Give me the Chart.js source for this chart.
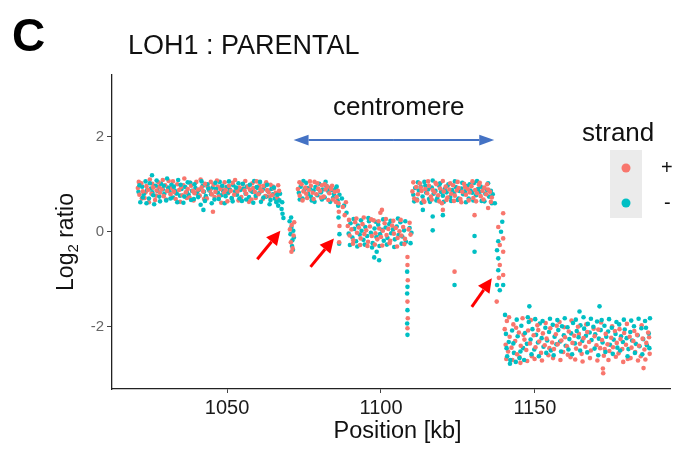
<!DOCTYPE html>
<html>
<head>
<meta charset="utf-8">
<title>LOH1 : PARENTAL</title>
<script src="https://cdn.jsdelivr.net/npm/chart.js@4.4.1/dist/chart.umd.min.js"></script>
<style>
  html, body { margin: 0; padding: 0; background: #fff; }
  #wrap { position: relative; width: 677px; height: 449px; }
</style>
</head>
<body>
<div id="wrap"><canvas id="loh"></canvas></div>
<script>
'use strict';

// --- axes ---
const xTicks = [1050, 1100, 1150];
const yTicks = [-2, 0, 2];
const xRange = [1012.6, 1193.9];
const yRange = [-3.31, 3.30];

// --- strand "+" (red) : [position kb, log2 ratio] ---
const plusSegA = [
  [1021.0,0.92],[1021.5,0.78],[1022.1,1.02],[1022.6,0.85],[1023.2,0.71],[1023.8,0.96],[1024.3,0.88],[1024.9,1.10],[1025.4,0.80],[1026.0,0.93],
  [1026.6,0.67],[1027.1,0.87],[1027.7,1.04],[1028.2,0.82],[1028.8,0.90],[1029.4,0.75],[1029.9,0.98],[1030.5,0.86],[1031.0,1.07],[1031.6,0.79],
  [1032.2,0.91],[1032.7,0.84],[1033.3,0.69],[1033.8,1.00],[1034.4,0.88],[1035.0,0.94],[1035.5,0.77],[1036.1,1.12],[1036.6,0.83],[1037.2,0.90],
  [1037.8,0.72],[1038.3,0.97],[1038.9,0.86],[1039.4,0.81],[1040.0,1.05],[1040.6,0.89],[1041.1,0.76],[1041.7,0.93],[1042.2,0.85],[1042.8,1.01],
  [1043.4,0.70],[1043.9,0.92],[1044.5,0.87],[1045.0,0.79],[1045.4,0.42],[1045.6,0.99],[1046.2,0.84],[1046.7,1.08],[1047.3,0.74],[1047.8,0.90],
  [1048.4,0.95],[1049.0,0.82],[1049.5,0.88],[1050.1,0.64],[1050.6,0.97],[1051.2,0.86],[1051.8,1.03],[1052.3,0.78],[1052.9,0.91],[1053.4,0.85],
  [1054.0,0.93],[1054.6,0.73],[1055.1,1.00],[1055.7,0.87],[1056.2,0.80],[1056.8,0.95],[1057.4,0.89],[1057.9,0.68],[1058.5,0.92],[1059.0,0.84],
  [1059.6,1.06],[1060.2,0.79],[1060.7,0.90],[1061.3,0.86],[1061.8,0.97],[1062.4,0.75],[1063.0,0.88],[1063.5,0.83],[1064.1,0.99],[1064.6,0.77],
  [1065.2,0.91],[1065.8,0.82],[1066.3,0.72],[1066.9,0.86]
];
const plusFillA = [
  [1021.3,1.05],[1022.3,0.70],[1023.5,0.83],[1024.6,0.62],[1025.7,1.01],[1026.9,0.76],[1027.9,0.94],[1029.1,1.09],[1030.2,0.68],[1031.3,0.92],
  [1032.4,1.06],[1033.5,0.80],[1034.7,0.63],[1035.8,0.98],[1036.9,0.71],[1038.0,1.03],[1039.1,0.66],[1040.3,0.84],[1041.4,1.10],[1042.5,0.69],
  [1043.6,0.96],[1044.7,1.05],[1045.9,0.73],[1047.0,0.95],[1048.1,0.61],[1049.2,1.04],[1050.3,0.81],[1051.5,0.70],[1052.6,1.09],[1053.7,0.66],
  [1054.9,0.90],[1055.9,1.07],[1057.1,0.63],[1058.2,1.02],[1059.3,0.71],[1060.5,0.98],[1061.6,0.69],[1062.7,1.04],[1063.8,0.74],[1064.9,0.95],
  [1066.0,0.66],[1066.6,0.98]
];
const plusDip1 = [[1070.4,0.05],[1070.7,-0.22],[1071.0,0.14],[1071.3,-0.35],[1071.6,-0.08],[1070.9,-0.42],[1071.8,0.20]];
const plusSegB = [
  [1073.0,0.90],[1073.6,0.76],[1074.2,1.00],[1074.8,0.85],[1075.4,0.93],[1076.0,0.71],[1076.6,0.88],[1077.2,0.97],[1077.8,0.82],[1078.4,1.05],
  [1079.0,0.79],[1079.6,0.91],[1080.2,0.86],[1080.8,0.98],[1081.4,0.74],[1082.0,0.89],[1082.6,0.95],[1083.2,0.81],[1083.8,0.90],[1084.4,0.68],
  [1085.0,0.84],[1085.6,0.73],[1086.2,0.60],
  [1073.5,1.04],[1074.5,0.66],[1075.7,0.80],[1076.9,1.06],[1078.1,0.69],[1079.3,1.02],[1080.5,0.72],[1081.7,1.00],[1082.9,0.67],[1084.1,0.97],
  [1085.3,0.63],[1086.0,0.86]
];
const plusDip2 = [[1086.3,0.42],[1086.5,0.12],[1086.4,-0.22],[1087.6,0.52],[1088.2,0.35],[1088.6,0.62]];
const plusSegC = [
  [1089.2,0.12],[1089.8,-0.08],[1090.4,0.05],[1091.0,-0.18],[1091.6,0.20],[1092.2,-0.02],[1092.8,0.09],[1093.4,-0.14],[1094.0,0.16],[1094.6,-0.05],
  [1095.2,0.03],[1095.8,-0.21],[1096.4,0.11],[1097.0,-0.09],[1097.6,0.24],[1098.2,-0.03],[1098.8,-0.16],[1099.4,0.07],[1100.0,-0.11],[1100.6,0.02],
  [1101.2,0.18],[1101.8,-0.07],[1102.4,0.06],[1103.0,-0.19],[1103.6,0.13],[1104.2,-0.04],[1104.8,0.08],[1105.4,-0.13],[1106.0,0.01],[1106.6,-0.08],
  [1107.2,0.10],[1107.8,-0.15],[1109.0,0.05],[1109.6,-0.06],[1100.3,0.46],[1099.8,0.40],
  [1089.6,0.25],[1090.9,-0.25],[1092.0,0.28],[1093.2,-0.28],[1094.4,0.30],[1095.6,-0.30],[1096.8,0.26],[1098.0,-0.27],[1099.2,0.22],[1100.4,-0.29],
  [1101.6,0.27],[1102.8,-0.24],[1104.0,0.23],[1105.2,-0.31],[1106.4,0.25],[1107.6,-0.26],[1109.3,0.19]
];
const plusDrop = [[1108.6,-0.53],[1108.7,-1.02],[1108.6,-1.47],[1108.7,-1.82],[1108.6,-2.03],[1108.6,-0.70]];
const plusSegD = [
  [1110.2,0.85],[1110.8,0.70],[1111.4,0.94],[1112.0,0.79],[1112.6,1.02],[1113.2,0.86],[1113.8,0.66],[1114.4,0.90],[1115.0,0.81],[1115.6,0.97],
  [1116.2,0.74],[1116.8,0.88],[1117.4,0.83],[1118.0,1.00],[1118.6,0.77],[1119.2,0.91],[1119.8,0.60],[1120.4,0.85],[1121.0,0.95],[1121.6,0.72],
  [1122.2,0.89],[1122.8,0.80],[1123.4,0.98],[1124.0,0.76],[1124.6,0.87],[1125.2,0.92],[1125.8,0.69],[1126.4,0.84],[1127.0,1.01],[1127.6,0.78],
  [1128.2,0.90],[1128.8,0.83],[1129.4,0.96],[1130.0,0.71],[1130.6,0.88],[1131.2,0.81],[1131.8,0.99],[1132.4,0.75],[1133.0,0.86],[1133.6,0.93],
  [1134.2,0.79],[1134.8,0.89],[1135.4,0.84],[1136.0,0.72],[1120.1,0.46],[1123.9,-0.84],[1130.4,0.35],[1134.8,0.50],
  [1110.5,1.04],[1111.7,0.66],[1112.9,0.93],[1114.1,0.63],[1115.3,1.06],[1116.5,0.68],[1117.7,1.03],[1118.9,0.64],[1120.1,1.07],[1121.3,0.67],
  [1122.5,1.02],[1123.7,0.65],[1124.9,1.05],[1126.1,0.62],[1127.3,0.94],[1128.5,0.66],[1129.7,1.06],[1130.9,0.64],[1132.1,1.03],[1133.3,0.68],
  [1134.5,1.00],[1135.7,0.63]
];
const plusDip3 = [[1139.7,0.39],[1138.1,0.10],[1139.7,-0.14],[1138.6,-0.28],[1139.7,-0.42],[1138.6,-0.70],[1139.7,-0.91],[1137.6,-1.47],[1138.3,-0.97]];
const plusSegE = [
  [1140.2,-2.05],[1140.5,-2.38],[1140.9,-1.88],[1141.3,-2.52],[1141.8,-2.21],[1142.4,-2.44],[1143.0,-1.95],[1143.6,-2.30],[1144.2,-2.58],[1144.8,-2.12],
  [1145.4,-2.40],[1146.0,-1.82],[1146.6,-2.27],[1147.2,-2.49],[1147.8,-2.08],[1148.4,-2.35],[1149.0,-2.62],[1149.6,-2.18],[1150.2,-2.43],[1150.8,-1.97],
  [1151.4,-2.31],[1152.0,-2.55],[1152.6,-2.14],[1153.2,-2.39],[1153.8,-2.25],[1154.4,-2.60],[1155.0,-2.03],[1155.6,-2.33],[1156.2,-2.47],[1156.8,-2.16],
  [1157.4,-2.37],[1158.0,-1.90],[1158.6,-2.29],[1159.2,-2.53],[1159.8,-2.22],[1160.4,-2.41],[1161.0,-2.10],[1161.6,-2.64],[1162.2,-2.34],[1162.8,-2.19],
  [1163.4,-2.46],[1164.0,-2.00],[1164.6,-2.36],[1165.2,-2.57],[1165.8,-2.24],[1166.4,-2.42],[1167.0,-2.11],[1167.6,-2.32],[1168.2,-2.50],[1169.4,-2.20],
  [1170.0,-2.39],[1170.6,-2.06],[1171.2,-2.45],[1171.8,-2.28],[1172.1,-2.88],[1172.2,-2.98],[1172.4,-2.61],[1173.0,-2.15],[1173.6,-2.37],[1174.2,-2.51],
  [1174.8,-2.23],[1175.4,-2.43],[1176.0,-2.09],[1176.6,-2.34],[1177.2,-2.56],[1177.8,-2.26],[1178.4,-2.47],[1179.0,-2.13],[1179.6,-2.38],[1180.2,-2.68],
  [1180.8,-2.21],[1181.4,-2.44],[1182.0,-2.30],[1182.6,-2.53],[1183.2,-2.17],[1183.8,-2.40],[1184.4,-2.62],[1185.0,-2.25],[1185.3,-2.87],[1185.6,-2.48],
  [1186.2,-2.34],[1186.8,-2.12],[1187.3,-2.57],[1145.3,-2.76]
];
const plusFillE = [
  [1140.7,-2.68],[1141.6,-1.80],[1142.7,-2.70],[1143.9,-2.02],[1145.0,-2.64],[1146.3,-2.17],[1147.5,-2.72],[1148.7,-1.86],[1149.9,-2.68],[1151.1,-2.07],
  [1152.3,-2.71],[1153.5,-1.92],[1154.7,-2.45],[1155.9,-2.66],[1157.1,-1.98],[1158.3,-2.70],[1159.5,-2.01],[1160.7,-2.59],[1161.9,-1.87],[1163.1,-2.69],
  [1164.3,-2.15],[1165.5,-2.73],[1166.7,-1.95],[1167.9,-2.66],[1169.1,-2.04],[1170.3,-2.71],[1171.5,-1.91],[1172.7,-2.47],[1173.9,-2.70],[1175.1,-1.99],
  [1176.3,-2.63],[1177.5,-2.05],[1178.7,-2.74],[1179.9,-1.94],[1181.1,-2.66],[1182.3,-2.09],[1183.5,-2.71],[1184.7,-1.97],[1185.9,-2.69],[1187.1,-2.22]
];

// --- strand "-" (cyan) ---
const minusSegA = [
  [1021.2,0.84],[1021.8,0.62],[1022.4,0.95],[1022.9,0.79],[1023.5,1.06],[1024.0,0.88],[1024.6,0.70],[1025.2,0.91],[1025.6,1.19],[1025.7,0.83],[1026.3,0.58],
  [1026.8,0.97],[1027.4,0.86],[1028.0,0.74],[1028.5,1.01],[1029.1,0.89],[1029.6,0.80],[1030.2,0.66],[1030.8,0.93],[1031.3,0.85],[1031.9,0.99],
  [1032.4,0.72],[1033.0,0.87],[1033.6,0.81],[1034.1,1.09],[1034.7,0.76],[1035.2,0.90],[1035.8,0.61],[1036.4,0.94],[1036.9,0.83],[1037.5,0.78],
  [1038.0,1.03],[1038.6,0.86],[1039.2,0.69],[1039.7,0.92],[1040.3,0.80],[1040.8,0.88],[1041.4,0.57],[1042.0,0.96],[1042.3,0.46],[1042.5,0.84],
  [1043.1,0.75],[1043.6,1.00],[1044.2,0.87],[1044.8,0.79],[1045.3,0.93],[1045.9,0.68],[1046.4,0.90],[1047.0,0.82],[1047.6,1.05],[1048.1,0.77],
  [1048.7,0.86],[1049.2,0.60],[1049.8,0.94],[1050.4,0.83],[1050.9,0.89],[1051.5,0.71],[1052.0,0.98],[1052.6,0.85],[1053.2,0.78],[1053.7,1.02],
  [1054.3,0.88],[1054.8,0.65],[1055.4,0.91],[1056.0,0.80],[1056.5,0.95],[1057.1,0.73],[1057.6,0.87],[1058.2,0.84],[1058.8,1.07],[1059.3,0.76],
  [1059.9,0.92],[1060.4,0.81],[1061.0,0.63],[1061.6,0.89],[1062.1,0.96],[1062.7,0.74],[1063.2,0.86],[1063.8,0.58],[1064.4,0.90],[1064.9,0.79],
  [1065.5,0.70],[1066.0,0.62],[1066.6,0.55],[1067.2,0.80]
];
const minusFillA = [
  [1021.5,0.98],[1022.6,0.72],[1023.8,0.60],[1024.9,1.02],[1026.0,0.77],[1027.1,1.08],[1028.2,0.64],[1029.4,0.97],[1030.5,1.12],[1031.6,0.70],
  [1032.7,0.95],[1033.8,0.62],[1034.9,0.99],[1036.1,0.74],[1037.2,1.04],[1038.3,0.67],[1039.4,1.00],[1040.6,0.73],[1041.7,1.06],[1042.8,0.65],
  [1043.9,0.91],[1045.0,0.60],[1046.2,1.03],[1047.3,0.69],[1048.4,0.97],[1049.5,0.75],[1050.6,1.06],[1051.8,0.64],[1052.9,0.93],[1054.0,0.70],
  [1055.1,1.01],[1056.2,0.68],[1057.4,0.99],[1058.5,0.61],[1059.6,0.94],[1060.7,1.05],[1061.8,0.72],[1063.0,0.99],[1064.1,0.67],[1065.2,0.93],
  [1066.3,0.78],[1067.0,0.66]
];
const minusDip1 = [
  [1067.7,0.48],[1068.0,0.38],[1068.3,0.29],[1067.9,0.62],[1070.3,0.22],[1070.6,-0.05],[1070.9,0.10],[1071.2,-0.18],[1071.5,0.02],[1071.1,-0.30],
  [1071.7,-0.12],[1070.8,0.30],[1071.4,-0.38]
];
const minusSegB = [
  [1073.3,0.82],[1073.9,0.95],[1074.5,0.70],[1075.1,0.88],[1075.7,1.03],[1076.3,0.80],[1076.9,0.91],[1077.5,0.66],[1078.1,0.87],[1078.7,0.94],
  [1079.3,0.77],[1079.9,1.01],[1080.5,0.83],[1081.1,0.89],[1081.7,0.72],[1082.3,0.96],[1082.9,0.85],[1083.5,0.63],[1084.1,0.88],[1084.7,0.79],
  [1085.3,0.91],[1085.9,0.66],[1086.5,0.78],
  [1073.6,0.68],[1074.8,1.07],[1076.0,0.92],[1077.2,0.74],[1078.4,0.63],[1079.6,0.90],[1080.8,0.68],[1082.0,1.05],[1083.2,0.92],[1084.4,0.71],
  [1085.6,0.95],[1086.1,0.55]
];
const minusDip2 = [[1086.2,0.30],[1086.5,-0.05],[1086.4,-0.25],[1087.3,0.70],[1088.0,0.55],[1088.8,0.40]];
const minusSegC = [
  [1089.5,-0.04],[1090.1,0.18],[1090.7,-0.12],[1091.3,0.06],[1091.9,-0.20],[1092.5,0.13],[1093.1,-0.06],[1093.7,0.02],[1094.3,-0.17],[1094.9,0.10],
  [1095.5,-0.09],[1096.1,0.22],[1096.7,-0.02],[1097.3,-0.24],[1097.9,0.07],[1098.5,-0.11],[1099.1,0.15],[1099.7,-0.05],[1100.3,0.04],[1100.9,-0.19],
  [1101.5,0.09],[1102.1,-0.13],[1102.7,0.16],[1103.3,-0.03],[1103.9,0.05],[1104.5,-0.16],[1105.1,0.11],[1105.7,-0.07],[1106.3,0.20],[1106.9,-0.10],
  [1107.5,0.03],[1108.1,-0.21],[1109.3,0.08],[1109.9,-0.02],[1097.8,-0.54],[1099.4,-0.60],[1098.6,-0.42],
  [1089.9,-0.28],[1091.1,0.27],[1092.3,-0.31],[1093.5,0.24],[1094.7,-0.27],[1095.9,0.29],[1097.1,-0.33],[1098.3,0.21],[1099.5,-0.30],[1100.7,0.26],
  [1101.9,-0.27],[1103.1,0.23],[1104.3,-0.32],[1105.5,0.28],[1106.7,-0.25],[1107.9,0.22],[1109.6,-0.24]
];
const minusDrop = [[1108.5,-0.84],[1108.6,-1.16],[1108.5,-1.30],[1108.6,-1.65],[1108.5,-1.93],[1108.6,-2.17]];
const minusSegD = [
  [1110.5,0.78],[1111.1,0.92],[1111.7,0.68],[1112.3,0.87],[1112.9,0.95],[1113.5,0.74],[1114.1,1.05],[1114.7,0.82],[1115.3,0.89],[1115.9,0.63],
  [1116.5,0.93],[1117.1,0.80],[1117.7,0.86],[1118.3,0.71],[1118.9,0.97],[1119.5,0.84],[1120.1,0.76],[1120.7,0.90],[1121.3,0.83],[1121.9,1.00],
  [1122.5,0.73],[1123.1,0.88],[1123.7,0.81],[1124.3,0.94],[1124.9,0.67],[1125.5,0.86],[1126.1,0.91],[1126.7,0.79],[1127.3,0.85],[1127.9,0.96],
  [1128.5,0.70],[1129.1,0.87],[1129.7,0.82],[1130.3,1.03],[1130.9,0.77],[1131.5,0.90],[1132.1,0.84],[1132.7,0.65],[1133.3,0.92],[1133.9,0.80],
  [1134.5,0.88],[1135.1,0.74],[1135.7,0.86],[1136.3,0.79],[1113.6,0.46],[1116.8,0.32],[1116.8,0.03],[1120.1,0.35],[1123.9,-1.12],[1130.4,-0.09],
  [1130.4,-0.42],[1137.0,0.60],
  [1110.8,0.64],[1112.0,1.04],[1113.2,0.61],[1114.4,0.97],[1115.6,0.69],[1116.8,1.08],[1118.0,0.66],[1119.2,1.02],[1120.4,0.63],[1121.6,0.97],
  [1122.8,0.65],[1124.0,1.06],[1125.2,0.70],[1126.4,1.03],[1127.6,0.62],[1128.8,1.00],[1130.0,0.66],[1131.2,1.07],[1132.4,0.95],[1133.6,0.64],
  [1134.8,1.02],[1136.0,0.60]
];
const minusDip3 = [[1139.4,0.21],[1139.0,0.00],[1138.1,-0.20],[1137.7,-0.39],[1138.1,-0.56],[1138.1,-0.81],[1137.7,-1.12],[1139.7,-1.12],[1138.6,-1.23]];
const minusSegE = [
  [1140.3,-1.75],[1140.6,-2.15],[1141.0,-2.62],[1141.5,-2.32],[1142.0,-2.70],[1142.6,-2.08],[1143.2,-2.55],[1143.8,-2.74],[1144.4,-2.20],[1145.0,-2.66],
  [1145.6,-1.98],[1146.2,-2.45],[1146.8,-2.13],[1147.4,-2.36],[1148.0,-1.90],[1148.2,-1.57],[1148.6,-2.27],[1149.2,-2.05],[1149.8,-2.48],[1150.4,-2.17],
  [1151.0,-2.33],[1151.6,-1.93],[1152.2,-2.24],[1152.8,-2.42],[1153.4,-2.02],[1154.0,-2.29],[1154.6,-2.11],[1155.2,-2.50],[1155.8,-1.96],[1156.4,-2.21],
  [1157.0,-2.37],[1157.6,-2.07],[1158.2,-2.31],[1158.8,-1.99],[1159.4,-2.18],[1160.0,-2.40],[1160.6,-2.01],[1161.2,-2.26],[1161.8,-2.14],[1162.4,-1.92],
  [1163.0,-2.35],[1163.6,-2.09],[1164.2,-2.22],[1164.5,-1.68],[1164.8,-1.97],[1165.4,-2.30],[1166.0,-2.04],[1166.6,-2.19],[1167.2,-1.94],[1167.8,-2.12],
  [1168.4,-2.28],[1169.0,-2.00],[1169.6,-2.16],[1170.2,-1.89],[1170.8,-2.25],[1171.0,-1.57],[1171.4,-2.07],[1172.0,-2.33],[1172.6,-1.98],[1173.2,-2.21],
  [1173.8,-2.10],[1174.4,-2.38],[1175.0,-2.02],[1175.6,-2.27],[1176.2,-2.15],[1176.8,-2.44],[1177.4,-1.95],[1178.0,-2.20],[1178.6,-2.32],[1179.2,-2.06],
  [1179.8,-2.24],[1180.4,-2.47],[1181.0,-2.11],[1181.6,-2.29],[1182.2,-1.99],[1182.8,-2.36],[1183.4,-2.18],[1184.0,-2.41],[1184.6,-2.03],[1185.2,-2.26],
  [1185.8,-1.88],[1186.4,-2.39],[1187.0,-2.14],[1187.4,-1.82]
];
const minusFillE = [
  [1140.8,-2.45],[1141.9,-2.78],[1143.0,-2.35],[1144.1,-1.85],[1145.3,-2.52],[1146.5,-2.70],[1147.7,-1.80],[1148.9,-2.58],[1150.1,-1.84],[1151.3,-2.62],
  [1152.5,-1.88],[1153.7,-2.55],[1154.9,-1.83],[1156.1,-2.60],[1157.3,-1.86],[1158.5,-2.52],[1159.7,-1.82],[1160.9,-2.48],[1162.1,-2.58],[1163.3,-1.85],
  [1164.7,-2.50],[1165.8,-1.80],[1167.0,-2.54],[1168.2,-1.83],[1169.4,-2.46],[1170.6,-2.60],[1171.7,-1.86],[1172.9,-2.53],[1174.1,-1.84],[1175.3,-2.57],
  [1176.5,-1.90],[1177.7,-2.50],[1178.9,-1.85],[1180.1,-2.62],[1181.3,-1.87],[1182.5,-2.55],[1183.7,-1.83],[1184.9,-2.58],[1186.1,-2.02],[1187.2,-2.45]
];

// --- annotations (data coords) ---
const centromereSpan = [1071.6, 1136.8];
const centromereY = 1.93;
const redArrows = [
  [1059.8, -0.58, 1067.3, 0.02],
  [1077.1, -0.74, 1084.7, -0.14],
  [1129.5, -1.58, 1136.0, -0.98]
];

const RED = '#F8766D';
const CYAN = '#00BFC4';
const FONT = '"Liberation Sans", Arial, Helvetica, sans-serif';

const toXY = arr => arr.map(p => ({ x: p[0], y: p[1] }));

// two layers per strand so the colours interleave like the original plot
const plusCore = toXY([].concat(plusSegA, plusDip1, plusSegB, plusDip2, plusSegC, plusDrop, plusSegD, plusDip3, plusSegE));
const plusFill = toXY([].concat(plusFillA, plusFillE));
const minusCore = toXY([].concat(minusSegA, minusDip1, minusSegB, minusDip2, minusSegC, minusDrop, minusSegD, minusDip3, minusSegE));
const minusFill = toXY([].concat(minusFillA, minusFillE));

function arrow(ctx, x1, y1, x2, y2, color, lw, len, half) {
  const a = Math.atan2(y2 - y1, x2 - x1);
  const bx = x2 - Math.cos(a) * len, by = y2 - Math.sin(a) * len;
  ctx.strokeStyle = color;
  ctx.fillStyle = color;
  ctx.lineWidth = lw;
  ctx.beginPath();
  ctx.moveTo(x1, y1);
  ctx.lineTo(bx, by);
  ctx.stroke();
  ctx.beginPath();
  ctx.moveTo(x2, y2);
  ctx.lineTo(bx - Math.sin(a) * half, by + Math.cos(a) * half);
  ctx.lineTo(bx + Math.sin(a) * half, by - Math.cos(a) * half);
  ctx.closePath();
  ctx.fill();
}

// texts, arrows and legend drawn on top of the plot
const decorations = {
  id: 'decorations',
  afterDraw(chart) {
    const ctx = chart.ctx;
    const xs = chart.scales.x, ys = chart.scales.y;
    ctx.save();
    ctx.textBaseline = 'alphabetic';
    ctx.textAlign = 'left';
    ctx.fillStyle = '#000';
    ctx.font = 'bold 46px ' + FONT;
    ctx.fillText('C', 12, 51);
    ctx.fillStyle = '#111';
    ctx.font = '27px ' + FONT;
    ctx.fillText('LOH1 : PARENTAL', 128, 54);

    // centromere
    ctx.font = '26px ' + FONT;
    ctx.fillText('centromere', 333, 115);
    const cy = ys.getPixelForValue(centromereY);
    const c1 = xs.getPixelForValue(centromereSpan[0]);
    const c2 = xs.getPixelForValue(centromereSpan[1]);
    const mid = (c1 + c2) / 2;
    arrow(ctx, mid, cy, c1, cy, '#4472C4', 2, 15, 5.3);
    arrow(ctx, mid, cy, c2, cy, '#4472C4', 2, 15, 5.3);

    redArrows.forEach(r => {
      arrow(ctx, xs.getPixelForValue(r[0]), ys.getPixelForValue(r[1]),
        xs.getPixelForValue(r[2]), ys.getPixelForValue(r[3]), '#FF0000', 3, 14, 7);
    });

    // legend
    ctx.fillStyle = '#111';
    ctx.font = '26px ' + FONT;
    ctx.fillText('strand', 582, 141);
    ctx.fillStyle = '#EBEBEB';
    ctx.fillRect(610, 150, 32, 68);
    [[168, RED], [203, CYAN]].forEach(k => {
      ctx.fillStyle = k[1];
      ctx.beginPath();
      ctx.arc(626, k[0], 4.5, 0, Math.PI * 2);
      ctx.fill();
    });
    ctx.fillStyle = '#111';
    ctx.font = '20px ' + FONT;
    ctx.textBaseline = 'middle';
    ctx.fillText('+', 661, 168);
    ctx.fillText('-', 664, 203);

    // axis titles
    ctx.textBaseline = 'alphabetic';
    ctx.textAlign = 'center';
    ctx.font = '23.5px ' + FONT;
    ctx.fillText('Position [kb]', 397.5, 438);

    ctx.translate(73, 242);
    ctx.rotate(-Math.PI / 2);
    ctx.textAlign = 'left';
    ctx.font = '23px ' + FONT;
    const wLog = ctx.measureText('Log').width;
    ctx.font = '15px ' + FONT;
    const w2 = ctx.measureText('2').width;
    ctx.font = '23px ' + FONT;
    const wRest = ctx.measureText(' ratio').width;
    const x0 = -(wLog + w2 + wRest) / 2;
    ctx.fillText('Log', x0, 0);
    ctx.font = '15px ' + FONT;
    ctx.fillText('2', x0 + wLog, 5);
    ctx.font = '23px ' + FONT;
    ctx.fillText(' ratio', x0 + wLog + w2, 0);
    ctx.restore();
  }
};

const pointStyle = { pointRadius: 2.3, pointBorderWidth: 0, pointHoverRadius: 0 };

new Chart(document.getElementById('loh'), {
  type: 'scatter',
  data: {
    datasets: [
      Object.assign({ label: '-', data: minusFill, backgroundColor: CYAN }, pointStyle),
      Object.assign({ label: '+', data: plusCore, backgroundColor: RED }, pointStyle),
      Object.assign({ label: '-', data: minusCore, backgroundColor: CYAN }, pointStyle),
      Object.assign({ label: '+', data: plusFill, backgroundColor: RED }, pointStyle)
    ]
  },
  options: {
    responsive: true,
    maintainAspectRatio: false,
    animation: false,
    events: [],
    layout: { padding: { top: 75, right: 7, left: 0, bottom: 0 } },
    plugins: { legend: { display: false }, tooltip: { enabled: false } },
    scales: {
      x: {
        type: 'linear',
        min: xRange[0],
        max: xRange[1],
        afterBuildTicks: s => { s.ticks = xTicks.map(v => ({ value: v })); },
        afterFit: s => { s.height = 60; },
        border: { display: true, color: '#222', width: 1.3 },
        grid: { drawOnChartArea: false, drawTicks: true, tickLength: 4, color: '#444' },
        ticks: { color: '#1a1a1a', font: { family: FONT, size: 20 }, padding: 3, maxRotation: 0, callback: v => String(v) }
      },
      y: {
        type: 'linear',
        min: yRange[0],
        max: yRange[1],
        afterBuildTicks: s => { s.ticks = yTicks.map(v => ({ value: v })); },
        afterFit: s => { s.width = 112; },
        border: { display: true, color: '#222', width: 1.3 },
        grid: { drawOnChartArea: false, drawTicks: true, tickLength: 5, color: '#444' },
        ticks: { color: '#666', font: { family: FONT, size: 15 }, padding: 3, callback: v => String(v) }
      }
    }
  },
  plugins: [decorations]
});
</script>
</body>
</html>
